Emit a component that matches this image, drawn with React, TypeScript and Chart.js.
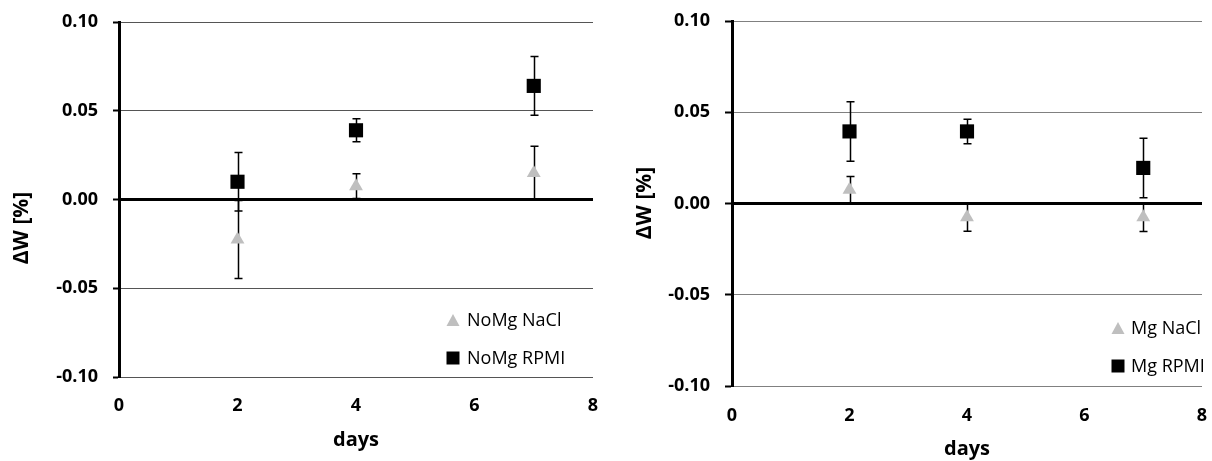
import React, { useEffect, useRef } from "react";
import { Chart, registerables } from "chart.js";

Chart.register(...registerables);

// ---------- data ----------
const days = [2, 4, 7];
const xTicks = [0, 2, 4, 6, 8];
const yTicks = [-0.1, -0.05, 0, 0.05, 0.1];

const noMgNaCl = [-0.0225, 0.0075, 0.015];
const noMgNaClErr = [0.022, 0.007, 0.015];
const noMgRPMI = [0.01, 0.039, 0.064];
const noMgRPMIErr = [0.0165, 0.0065, 0.0165];

const mgNaCl = [0.0075, -0.0075, -0.0075];
const mgNaClErr = [0.0073, 0.0077, 0.0078];
const mgRPMI = [0.0395, 0.0395, 0.0195];
const mgRPMIErr = [0.0163, 0.0067, 0.0163];

const leftLabels = ["NoMg NaCl", "NoMg RPMI"];
const rightLabels = ["Mg NaCl", "Mg RPMI"];
const xTitle = "days";
const yTitle = "ΔW [%]";

// ---------- styles ----------
const FONT = "'Open Sans', 'Noto Sans', sans-serif";
const GRAY = "#bfbfbf";
const W = 606;
const H = 461;

const errorBarPlugin = {
  id: "errorBars",
  beforeDatasetsDraw(chart: any) {
    const ctx = chart.ctx;
    const ys = chart.scales.y;
    chart.data.datasets.forEach((ds: any, i: number) => {
      const errs = ds.errors;
      if (!errs) return;
      const meta = chart.getDatasetMeta(i);
      meta.data.forEach((pt: any, j: number) => {
        const v = ds.data[j].y;
        const e = errs[j];
        const x = Math.round(pt.x) + 0.5;
        const yTop = ys.getPixelForValue(v + e);
        const yBot = ys.getPixelForValue(v - e);
        ctx.save();
        ctx.strokeStyle = "#000";
        ctx.lineWidth = 1.5;
        ctx.beginPath();
        ctx.moveTo(x, yTop);
        ctx.lineTo(x, yBot);
        ctx.moveTo(x - 4, yTop);
        ctx.lineTo(x + 4, yTop);
        ctx.moveTo(x - 4, yBot);
        ctx.lineTo(x + 4, yBot);
        ctx.stroke();
        ctx.restore();
      });
    });
  },
};

const insideLegendPlugin = {
  id: "insideLegend",
  afterDraw(chart: any, _args: any, opts: any) {
    if (!opts || opts.x == null) return;
    const ctx = chart.ctx;
    chart.data.datasets.forEach((ds: any, i: number) => {
      const cy = opts.y + i * opts.gap;
      const cx = opts.x;
      ctx.save();
      ctx.fillStyle = ds.backgroundColor;
      ctx.beginPath();
      if (ds.pointStyle === "triangle") {
        ctx.moveTo(cx, cy - 6);
        ctx.lineTo(cx + 6.5, cy + 6);
        ctx.lineTo(cx - 6.5, cy + 6);
        ctx.closePath();
      } else {
        ctx.rect(cx - 6.5, cy - 6.5, 13, 13);
      }
      ctx.fill();
      ctx.fillStyle = "#000";
      ctx.font = `18px ${FONT}`;
      ctx.textBaseline = "middle";
      ctx.textAlign = "left";
      ctx.fillText(ds.label, opts.textX, cy + 1);
      ctx.restore();
    });
  },
};

const yTitlePlugin = {
  id: "yTitleText",
  afterDraw(chart: any, _args: any, opts: any) {
    if (!opts || opts.text == null) return;
    const ctx = chart.ctx;
    ctx.save();
    ctx.translate(opts.x, opts.y);
    ctx.rotate(-Math.PI / 2);
    ctx.fillStyle = "#000";
    ctx.font = `bold 21px ${FONT}`;
    ctx.textAlign = "center";
    ctx.textBaseline = "middle";
    ctx.fillText(opts.text, 0, 0);
    ctx.restore();
  },
};

type PanelProps = {
  labels: string[];
  naCl: number[];
  naClErr: number[];
  rpmi: number[];
  rpmiErr: number[];
  plotLeft: number;
  plotRight: number;
  plotTop: number;
  plotBottom: number;
  gridColor: string;
  legendX: number;
  legendY: number;
  legendTextX: number;
  yTitleX: number;
  yTitleY: number;
  xTickPad: number;
  xTitlePadBottom: number;
  yTickPad: number;
  yTickLen: number;
};

function Panel(p: PanelProps) {
  const ref = useRef<HTMLCanvasElement | null>(null);
  useEffect(() => {
    if (!ref.current) return;
    const isZero = (v: number) => Math.abs(v) < 1e-9;
    const chart = new Chart(ref.current, {
      type: "scatter",
      data: {
        datasets: [
          {
            label: p.labels[0],
            data: days.map((d, i) => ({ x: d, y: p.naCl[i] })),
            errors: p.naClErr,
            pointStyle: "triangle",
            pointRadius: 8,
            pointHoverRadius: 8,
            pointBorderWidth: 0,
            backgroundColor: GRAY,
            borderColor: GRAY,
            showLine: false,
          } as any,
          {
            label: p.labels[1],
            data: days.map((d, i) => ({ x: d, y: p.rpmi[i] })),
            errors: p.rpmiErr,
            pointStyle: "rect",
            pointRadius: 10,
            pointHoverRadius: 10,
            pointBorderWidth: 0,
            backgroundColor: "#000",
            borderColor: "#000",
            showLine: false,
          } as any,
        ],
      },
      options: {
        animation: false,
        responsive: false,
        events: [],
        layout: {
          padding: { top: p.plotTop, right: W - p.plotRight, bottom: 0, left: 0 },
        },
        plugins: {
          legend: { display: false },
          tooltip: { enabled: false },
          insideLegend: { x: p.legendX, y: p.legendY, gap: 38, textX: p.legendTextX },
          yTitleText: { text: yTitle, x: p.yTitleX, y: p.yTitleY },
        } as any,
        scales: {
          x: {
            type: "linear",
            min: 0,
            max: 8,
            afterBuildTicks: (s: any) => {
              s.ticks = xTicks.map((v) => ({ value: v }));
            },
            ticks: {
              color: "#000",
              font: { family: FONT, size: 18, weight: "bold" },
              padding: p.xTickPad,
              maxRotation: 0,
              autoSkip: false,
              callback: (v: any) => String(v),
            },
            grid: { display: false, drawTicks: false },
            border: { display: false },
            title: {
              display: true,
              text: xTitle,
              color: "#000",
              font: { family: FONT, size: 20, weight: "bold" },
              padding: { top: 0, bottom: p.xTitlePadBottom },
            },
            afterFit: (s: any) => {
              s.height = H - p.plotBottom;
              s.paddingLeft = 0;
              s.paddingRight = 0;
            },
          },
          y: {
            type: "linear",
            min: -0.1,
            max: 0.1,
            afterBuildTicks: (s: any) => {
              s.ticks = yTicks.map((v) => ({ value: v }));
            },
            ticks: {
              color: "#000",
              font: { family: FONT, size: 18, weight: "bold" },
              padding: p.yTickPad,
              callback: (v: any) => (isZero(Number(v)) ? "0.00" : Number(v).toFixed(2)),
            },
            grid: {
              color: (c: any) => (isZero(c.tick?.value ?? 1) ? "#000" : p.gridColor),
              lineWidth: (c: any) => (isZero(c.tick?.value ?? 1) ? 3 : 1),
              tickColor: "#000",
              tickWidth: 2,
              tickLength: p.yTickLen,
              drawTicks: true,
            },
            border: { display: true, color: "#000", width: 3 },
            afterFit: (s: any) => {
              s.width = p.plotLeft;
              s.paddingTop = 0;
              s.paddingBottom = 0;
            },
          },
        },
      } as any,
      plugins: [errorBarPlugin, insideLegendPlugin, yTitlePlugin],
    });
    return () => chart.destroy();
  }, []);
  return <canvas ref={ref} width={W} height={H} style={{ display: "block", width: W, height: H }} />;
}

export default function App() {
  return (
    <div
      style={{
        position: "absolute",
        left: 0,
        top: 0,
        width: 1212,
        height: 461,
        background: "#fff",
        display: "flex",
        overflow: "hidden",
      }}
    >
      <Panel
        labels={leftLabels}
        naCl={noMgNaCl}
        naClErr={noMgNaClErr}
        rpmi={noMgRPMI}
        rpmiErr={noMgRPMIErr}
        plotLeft={119}
        plotRight={593}
        plotTop={22}
        plotBottom={377}
        gridColor="#555555"
        legendX={453}
        legendY={320}
        legendTextX={467}
        yTitleX={22}
        yTitleY={228}
        xTickPad={18}
        xTitlePadBottom={9}
        yTickPad={15}
        yTickLen={6}
      />
      <Panel
        labels={rightLabels}
        naCl={mgNaCl}
        naClErr={mgNaClErr}
        rpmi={mgRPMI}
        rpmiErr={mgRPMIErr}
        plotLeft={126}
        plotRight={596}
        plotTop={21}
        plotBottom={386}
        gridColor="#808080"
        legendX={512}
        legendY={328}
        legendTextX={525}
        yTitleX={39}
        yTitleY={203}
        xTickPad={19}
        xTitlePadBottom={0}
        yTickPad={15}
        yTickLen={7}
      />
    </div>
  );
}
